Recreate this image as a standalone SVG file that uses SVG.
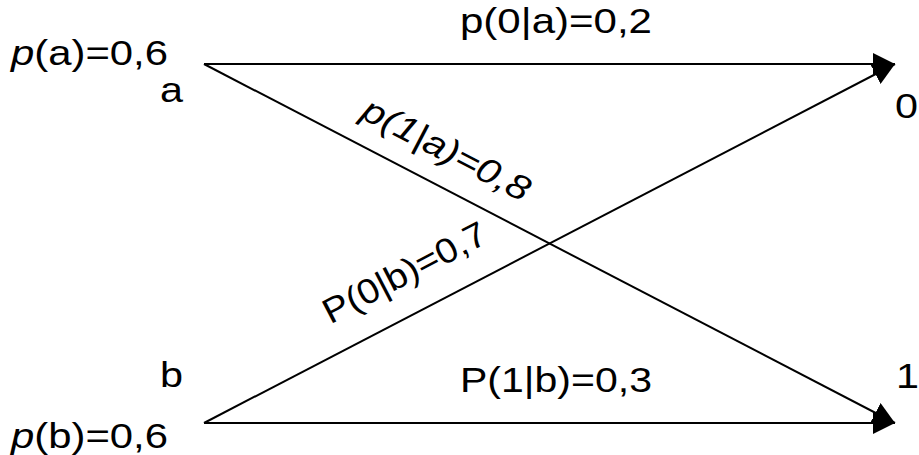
<svg xmlns="http://www.w3.org/2000/svg" width="919" height="455" viewBox="0 0 919 455">
<style>
text{font-family:"Liberation Sans",Arial,sans-serif;font-size:35px;fill:#000}
.i{font-style:italic}
.ln{stroke:#000;stroke-width:2;fill:none;marker-end:url(#ah)}
</style>
<defs>
<marker id="ah" markerUnits="userSpaceOnUse" markerWidth="22" markerHeight="22" viewBox="0 0 20 20" refX="20" refY="10" orient="auto">
<path d="M0,0 L20,10 L0,20 Z" fill="#000"/>
</marker>
</defs>
<rect width="919" height="455" fill="#fff"/>
<g id="connectors">
<path class="ln" d="M204,64 L895,64"/>
<path class="ln" d="M204,64 L895,423"/>
<path class="ln" d="M204,423 L895,64"/>
<path class="ln" d="M204,423 L895,423"/>
</g>
<g id="node-a">
<text x="11" y="65" textLength="157" lengthAdjust="spacingAndGlyphs"><tspan class="i">p</tspan>(a)=0,6</text>
<text x="160" y="102" textLength="23" lengthAdjust="spacingAndGlyphs">a</text>
</g>
<g id="node-b">
<text x="160" y="387" textLength="23" lengthAdjust="spacingAndGlyphs">b</text>
<text x="11" y="448" textLength="157" lengthAdjust="spacingAndGlyphs"><tspan class="i">p</tspan>(b)=0,6</text>
</g>
<g id="node-0">
<text x="895" y="118" textLength="23" lengthAdjust="spacingAndGlyphs">0</text>
</g>
<g id="node-1">
<text x="896" y="388" textLength="23" lengthAdjust="spacingAndGlyphs">1</text>
</g>
<g id="labels">
<text x="460" y="33" textLength="192" lengthAdjust="spacingAndGlyphs">p(0|a)=0,2</text>
<text x="460" y="392" textLength="192" lengthAdjust="spacingAndGlyphs">P(1|b)=0,3</text>
<text class="i" text-anchor="middle" textLength="184" lengthAdjust="spacingAndGlyphs" transform="translate(441,160) rotate(27.45)">p(1|a)=0,8</text>
<text text-anchor="middle" textLength="180" lengthAdjust="spacingAndGlyphs" transform="translate(410,283) rotate(-27.45)">P(0|b)=0,7</text>
</g>
</svg>
